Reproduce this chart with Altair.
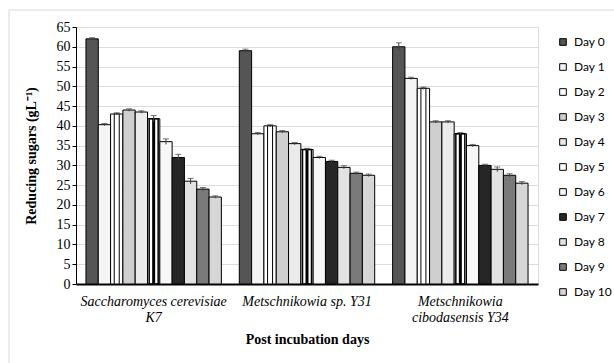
import altair as alt
import pandas as pd

# Yeast strains on the x axis ("|" marks a line break in the axis label)
groups = [
    "Saccharomyces cerevisiae|K7",
    "Metschnikowia sp. Y31",
    "Metschnikowia|cibodasensis Y34",
]
days = [f"Day {i}" for i in range(11)]

# Reducing sugars (g/L) per incubation day
sugar_k7 = [62.0, 40.3, 43.0, 44.0, 43.5, 41.8, 36.0, 32.0, 26.0, 24.0, 22.0]
sugar_y31 = [59.0, 38.0, 40.0, 38.5, 35.5, 34.0, 32.0, 31.0, 29.5, 28.0, 27.5]
sugar_y34 = [60.0, 52.0, 49.5, 41.0, 41.0, 38.0, 35.0, 30.0, 29.0, 27.5, 25.5]

# Standard deviations
sd_k7 = [0.3, 0.3, 0.3, 0.3, 0.3, 0.8, 0.7, 0.8, 0.7, 0.4, 0.3]
sd_y31 = [0.4, 0.3, 0.3, 0.3, 0.3, 0.3, 0.3, 0.3, 0.4, 0.3, 0.3]
sd_y34 = [1.0, 0.3, 0.3, 0.3, 0.3, 0.3, 0.3, 0.3, 0.6, 0.4, 0.4]

# Grey tones standing in for the hatch patterns of each day
day_fills = ["#555555", "#f4f4f4", "#ffffff", "#cfcfcf", "#ebebeb", "#ffffff",
             "#f7f7f7", "#262626", "#e2e2e2", "#7a7a7a", "#d6d6d6"]

rows = []
for g, vals, sds in zip(groups, [sugar_k7, sugar_y31, sugar_y34], [sd_k7, sd_y31, sd_y34]):
    for d, v, s in zip(days, vals, sds):
        rows.append({"group": g, "day": d, "sugar": v, "lo": v - s, "hi": v + s})
df = pd.DataFrame(rows)

SERIF = "Liberation Serif"

x_enc = alt.X(
    "group:N",
    sort=groups,
    scale=alt.Scale(paddingInner=0.117, paddingOuter=0.065),
    axis=alt.Axis(
        title="Post incubation days",
        labelExpr="split(datum.label, '|')",
        labelAngle=0,
        labelFont=SERIF,
        labelFontStyle="italic",
        labelFontSize=14,
        labelColor="black",
        labelPadding=10,
        labelLineHeight=16,
        ticks=False,
        domainColor="black",
        domainWidth=2,
        titleFont=SERIF,
        titleFontSize=14,
        titleFontWeight="bold",
        titleColor="black",
        titlePadding=8,
    ),
)
xoff = alt.XOffset("day:N", sort=days, scale=alt.Scale(paddingInner=0, paddingOuter=0))

y_scale = alt.Scale(domain=[0, 65], nice=False)
y_axis = alt.Axis(
    title="Reducing sugars (gL⁻¹)",
    values=list(range(0, 66, 5)),
    labelOverlap=False,
    labelFont=SERIF,
    labelFontSize=14,
    labelColor="black",
    tickColor="black",
    tickSize=4,
    domainColor="black",
    gridColor="#dcdcdc",
    gridWidth=1.2,
    titleFont=SERIF,
    titleFontSize=14,
    titleFontWeight="bold",
    titleColor="black",
    titlePadding=18,
)


def y_of(field):
    return alt.Y(field, scale=y_scale, axis=y_axis, title="Reducing sugars (gL⁻¹)")


base = alt.Chart(df)

bars = base.mark_bar(stroke="black", strokeWidth=1).encode(
    x=x_enc,
    xOffset=xoff,
    y=y_of("sugar:Q"),
    fill=alt.Fill(
        "day:N",
        sort=days,
        scale=alt.Scale(domain=days, range=day_fills),
        legend=alt.Legend(
            title=None,
            orient="none",
            legendX=481,
            legendY=9,
            symbolType="square",
            symbolSize=44,
            symbolStrokeColor="black",
            symbolStrokeWidth=1,
            labelFont="Lato",
            labelFontSize=12,
            labelColor="black",
            labelOffset=5,
            rowPadding=13.0,
        ),
    ),
)

# Vertical stripes inside the Day 2 and Day 5 bars
stripe2 = base.transform_filter(alt.datum.day == "Day 2").mark_bar(
    width=5, fill="#ffffff", stroke="black", strokeWidth=1
).encode(x=x_enc, xOffset=xoff, y=y_of("sugar:Q"))
stripe5 = base.transform_filter(alt.datum.day == "Day 5").mark_bar(
    width=3, fill="black"
).encode(x=x_enc, xOffset=xoff, y=y_of("sugar:Q"))
stripe5b = base.transform_filter(alt.datum.day == "Day 5").mark_bar(
    width=9, fill=None, stroke="black", strokeWidth=1.5
).encode(x=x_enc, xOffset=xoff, y=y_of("sugar:Q"))

err = base.mark_rule(color="#404040", strokeWidth=1).encode(
    x=x_enc, xOffset=xoff, y=y_of("lo:Q"), y2="hi:Q",
)
cap_hi = base.mark_tick(color="#404040", thickness=1, size=6).encode(
    x=x_enc, xOffset=xoff, y=y_of("hi:Q"),
)

# Light chart frame on the left and top edges
frame_left = alt.Chart().mark_rule(color="#d9d9d9", strokeWidth=1).encode(
    x=alt.value(-67), y=alt.value(-17), y2=alt.value(400)
)
frame_top = alt.Chart().mark_rule(color="#d9d9d9", strokeWidth=1).encode(
    x=alt.value(-67), x2=alt.value(700), y=alt.value(-17)
)

chart = alt.layer(
    bars, stripe2, stripe5b, stripe5, err, cap_hi, frame_left, frame_top
).properties(
    width=462,
    height=257,
    autosize=alt.AutoSizeParams(type="none"),
    padding={"left": 76, "top": 27, "right": 76, "bottom": 79},
).configure_view(stroke=None).configure(background="white")

chart.save("out.html", embed_options={"renderer": "svg", "actions": False})
